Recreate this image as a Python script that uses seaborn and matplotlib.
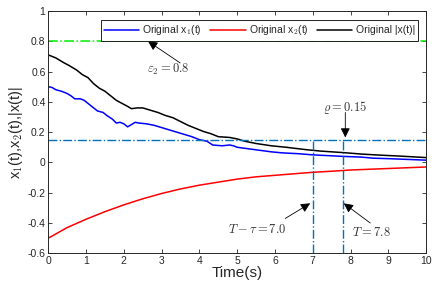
import numpy as np
import pandas as pd
import matplotlib
matplotlib.use('Agg')
import matplotlib.pyplot as plt
import seaborn as sns

# values
t1 = [0, 0.1, 0.2, 0.35, 0.5, 0.6, 0.7, 0.85, 0.95, 1.05, 1.2, 1.3, 1.45, 1.55, 1.7, 1.8, 1.9, 2.0, 2.1,
      2.2, 2.3, 2.4, 2.6, 2.8, 3.0, 3.2, 3.4, 3.6, 3.8, 4.0, 4.2, 4.35, 4.6, 4.8, 4.9, 5.0, 5.3, 5.6,
      5.9, 6.2, 6.6, 7.0, 7.4, 7.8, 8.3, 8.6, 9.0, 9.5, 10]
x1 = [0.50, 0.495, 0.48, 0.47, 0.455, 0.44, 0.42, 0.42, 0.41, 0.39, 0.36, 0.34, 0.33, 0.31, 0.285, 0.26,
      0.265, 0.255, 0.235, 0.25, 0.265, 0.26, 0.255, 0.245, 0.23, 0.215, 0.20, 0.185, 0.17, 0.15, 0.14,
      0.115, 0.11, 0.115, 0.11, 0.10, 0.09, 0.08, 0.07, 0.063, 0.058, 0.05, 0.045, 0.04, 0.035, 0.028,
      0.025, 0.02, 0.015]

t_norm = [0, 0.2, 0.4, 0.55, 0.75, 0.9, 1.05, 1.2, 1.35, 1.5, 1.65, 1.8, 1.95, 2.1, 2.2, 2.35, 2.5, 2.7,
          2.9, 3.1, 3.3, 3.5, 3.7, 3.9, 4.1, 4.3, 4.5, 4.8, 5.0, 5.2, 5.5, 5.9, 6.3, 6.8, 7.2, 7.8, 8.3,
          8.8, 9.3, 10]
xnorm = [0.71, 0.69, 0.66, 0.64, 0.61, 0.58, 0.56, 0.52, 0.49, 0.47, 0.44, 0.41, 0.39, 0.37, 0.355, 0.36,
         0.36, 0.345, 0.33, 0.31, 0.295, 0.27, 0.245, 0.225, 0.205, 0.19, 0.17, 0.165, 0.155, 0.14, 0.125,
         0.11, 0.10, 0.085, 0.075, 0.065, 0.055, 0.048, 0.042, 0.032]

t2 = [0, 0.5, 1, 1.5, 2, 2.5, 3, 3.5, 4, 4.5, 5, 5.5, 6, 6.5, 7, 7.5, 8, 8.5, 9, 9.5, 10]
x2 = [-0.5, -0.43, -0.375, -0.325, -0.28, -0.24, -0.205, -0.175, -0.15, -0.13, -0.11, -0.095, -0.085,
      -0.075, -0.065, -0.058, -0.05, -0.045, -0.04, -0.035, -0.03]

eps2 = 0.8
rho = 0.15
T_tau = 7.0
T = 7.8

sns.set_style('ticks')
plt.rcParams['font.family'] = ['Liberation Sans', 'DejaVu Sans']
plt.rcParams['mathtext.fontset'] = 'cm'

fig = plt.figure(figsize=(4.43, 2.89), dpi=100)
ax = fig.add_axes([0.109, 0.1235, 0.853, 0.8385])

df1 = pd.DataFrame({'t': t1, 'v': x1})
df2 = pd.DataFrame({'t': t2, 'v': x2})
dfn = pd.DataFrame({'t': t_norm, 'v': xnorm})

sns.lineplot(data=df1, x='t', y='v', color='#0000ff', lw=1.1, ax=ax, label=r'Original x$_1$(t)')
sns.lineplot(data=df2, x='t', y='v', color='#ff0000', lw=1.1, ax=ax, label=r'Original x$_2$(t)')
sns.lineplot(data=dfn, x='t', y='v', color='black', lw=1.1, ax=ax, label=r'Original |x(t)|')

ax.axhline(eps2, color='#00ee00', ls='-.', lw=1.1)
ax.axhline(rho, color='#0072BD', ls='-.', lw=1.0)
ax.plot([T_tau, T_tau], [-0.6, rho], color='#0072BD', ls='-.', lw=1.0)
ax.plot([T, T], [-0.6, rho], color='#0072BD', ls='-.', lw=1.0)

ax.set_xlim(0, 10)
ax.set_ylim(-0.6, 1)
ax.set_xticks(range(0, 11))
ax.set_yticks([-0.6, -0.4, -0.2, 0, 0.2, 0.4, 0.6, 0.8, 1])
ax.set_yticklabels(['-0.6', '-0.4', '-0.2', '0', '0.2', '0.4', '0.6', '0.8', '1'])
ax.tick_params(direction='in', top=True, right=True, labelsize=7.5, length=3, width=0.6, pad=2)
for s in ax.spines.values():
    s.set_linewidth(0.7)
    s.set_visible(True)

ax.set_xlabel('Time(s)', fontsize=11, labelpad=0)
ax.set_ylabel(r'x$_1$(t),x$_2$(t),|x(t)|', fontsize=10.5, labelpad=2)

# annotation arrows: tail -> head
arr = dict(arrowstyle='-|>', color='black', lw=0.6, mutation_scale=14, shrinkA=0, shrinkB=0)
ax.annotate('', xy=(2.64, 0.80), xytext=(3.49, 0.657), arrowprops=arr)
ax.annotate('', xy=(7.86, 0.165), xytext=(7.86, 0.33), arrowprops=arr)
ax.annotate('', xy=(6.93, -0.27), xytext=(6.27, -0.37), arrowprops=arr)
ax.annotate('', xy=(7.82, -0.27), xytext=(8.52, -0.40), arrowprops=arr)

tkw = dict(fontsize=9, ha='center', va='center', color='#333333')
ax.text(3.17, 0.615, r'$\varepsilon_2=0.8$', **tkw)
ax.text(7.86, 0.365, r'$\varrho=0.15$', **tkw)
ax.text(5.52, -0.445, r'$T-\tau=7.0$', **tkw)
ax.text(8.56, -0.46, r'$T=7.8$', **tkw)

leg = ax.legend(loc='upper right', ncol=3, fontsize=7.5, frameon=True, fancybox=False,
                edgecolor='black', framealpha=1, handlelength=3.4, columnspacing=0.8,
                handletextpad=0.3, borderpad=0.3, bbox_to_anchor=(0.992, 0.983))
leg.get_frame().set_linewidth(0.6)

fig.savefig('out.png', dpi=100)
